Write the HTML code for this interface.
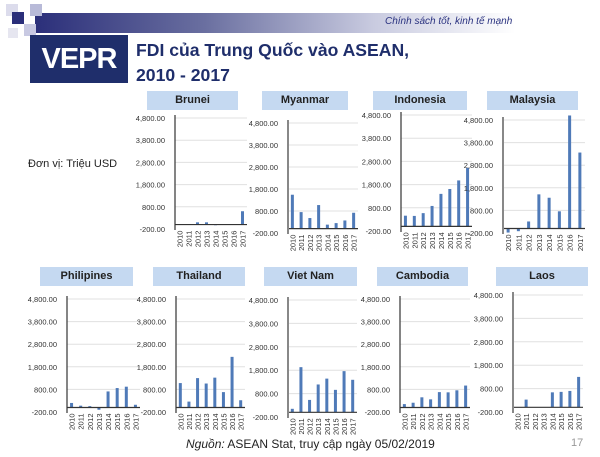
<!DOCTYPE html>
<html><head><meta charset="utf-8"><style>
body{margin:0;width:600px;height:457px;background:#fff;overflow:hidden;position:relative;font-family:"Liberation Sans","Noto Sans CJK SC",sans-serif}
.a{position:absolute}
.hd{position:absolute;background:#c5d9f1;font-weight:bold;font-size:11px;text-align:center;line-height:19px;color:#222}
</style></head><body>
<div class="a" style="left:35px;top:13px;width:565px;height:20px;background:linear-gradient(to right,#2b2f7a,#6a6fa0 30%,#c9cbe0 60%,#fff 85%)"></div>
<div class="a" style="left:6px;top:4px;width:12px;height:12px;background:#dcdcec"></div>
<div class="a" style="left:12px;top:12px;width:12px;height:12px;background:#2b2f7a"></div>
<div class="a" style="left:30px;top:4px;width:12px;height:12px;background:#b8bad8"></div>
<div class="a" style="left:24px;top:24px;width:12px;height:12px;background:#c8c9e2"></div>
<div class="a" style="left:8px;top:28px;width:10px;height:10px;background:#e6e6f0"></div>
<div class="a" style="left:30px;top:35px;width:98px;height:48px;background:#1f2e6b;color:#fff;font-weight:bold;font-size:29px;line-height:48px;text-align:center;letter-spacing:-1px">VEPR</div>
<div class="a" style="left:136px;top:38px;font-size:17.6px;font-weight:bold;color:#1f2e6b;line-height:25px">FDI của Trung Quốc vào ASEAN,<br>2010 - 2017</div>
<div class="a" style="left:385px;top:16px;font-size:10px;font-style:italic;color:#2b3380">Chính sách tốt, kinh tế mạnh</div>
<div class="a" style="left:28px;top:158px;font-size:11px;color:#222">Đơn vị: Triệu USD</div>
<div class="a" style="left:186px;top:437px;font-size:12px;color:#222"><i>Nguồn:</i> ASEAN Stat, truy cập ngày 05/02/2019</div>
<div class="a" style="left:571px;top:437px;font-size:11px;color:#999">17</div>
<svg class="a" style="left:0;top:0" width="600" height="457" id="s"></svg>
<script>
var C=[
["Brunei",147,238,91,175,247,118,229,false,[0,0,100,100,-30,0,0,600]],
["Myanmar",262,348,91,288,358,123,233,true,[1540,750,480,1070,180,250,370,720]],
["Indonesia",373,467,91,401,472,115,231,false,[460,450,570,880,1400,1610,1980,2520]],
["Malaysia",487,578,91,503,585,120,233,true,[-180,-120,310,1510,1360,760,5000,3360]],
["Philipines",40,133,267,67,140,299,412,false,[200,80,60,-100,710,860,920,120]],
["Thailand",153,245,267,176,245,299,412,false,[1080,260,1300,1060,1320,680,2240,320]],
["Viet Nam",264,357,267,288,357,300,417,true,[150,1930,530,1190,1440,960,1760,1390]],
["Cambodia",377,468,267,400,470,299,412,false,[150,210,450,360,680,670,760,970]],
["Laos",496,588,267,513,583,295,412,true,[0,330,0,0,640,660,700,1300]]];
var h="",body=document.body;
C.forEach(function(c){
 var d=document.createElement("div");d.className="hd";
 d.style.left=c[1]+"px";d.style.top=c[3]+"px";d.style.width=(c[2]-c[1])+"px";d.style.height="19px";d.textContent=c[0];body.appendChild(d);
 var ax=c[4],r=c[5],y0=c[6],y1=c[7],k=(y1-y0)/5000;
 function Y(v){return y0+(4800-v)*k}
 for(var i=0;i<6;i++){var v=4800-i*1000,y=Y(v);
  if(i<5)h+='<line x1="'+ax+'" x2="'+r+'" y1="'+y+'" y2="'+y+'" stroke="#e0e0e0" stroke-width="1"/>';
  h+='<text x="'+(ax-10)+'" y="'+(y+3)+'" font-size="7.5" text-anchor="end" fill="#333">'+(v<0?"-200.00":v.toLocaleString("en-US")+".00")+'</text>';}
 var z=Y(0),w=(r-ax)/8;
 c[9].forEach(function(v,j){var x=ax+w*j+w/2-1.5;var t=Math.min(Y(v),z),hh=Math.abs(Y(v)-z);
  h+='<rect x="'+x+'" y="'+t+'" width="3" height="'+hh+'" fill="#4f7ab8"/>';
  h+='<text transform="translate('+(x+4.5)+','+(z+6)+') rotate(-90)" text-anchor="end" font-size="7.5" fill="#333">'+(2010+j)+'</text>';});
 h+='<line x1="'+ax+'" x2="'+r+'" y1="'+z+'" y2="'+z+'" stroke="#333" stroke-width="1.2"/>';
 h+='<line x1="'+ax+'" x2="'+ax+'" y1="'+(y0-3)+'" y2="'+(y1+1)+'" stroke="'+(c[8]?"#888":"#333")+'" stroke-width="'+(c[8]?2:1.2)+'"/>';
});
document.getElementById("s").innerHTML=h;
</script>
</body></html>
